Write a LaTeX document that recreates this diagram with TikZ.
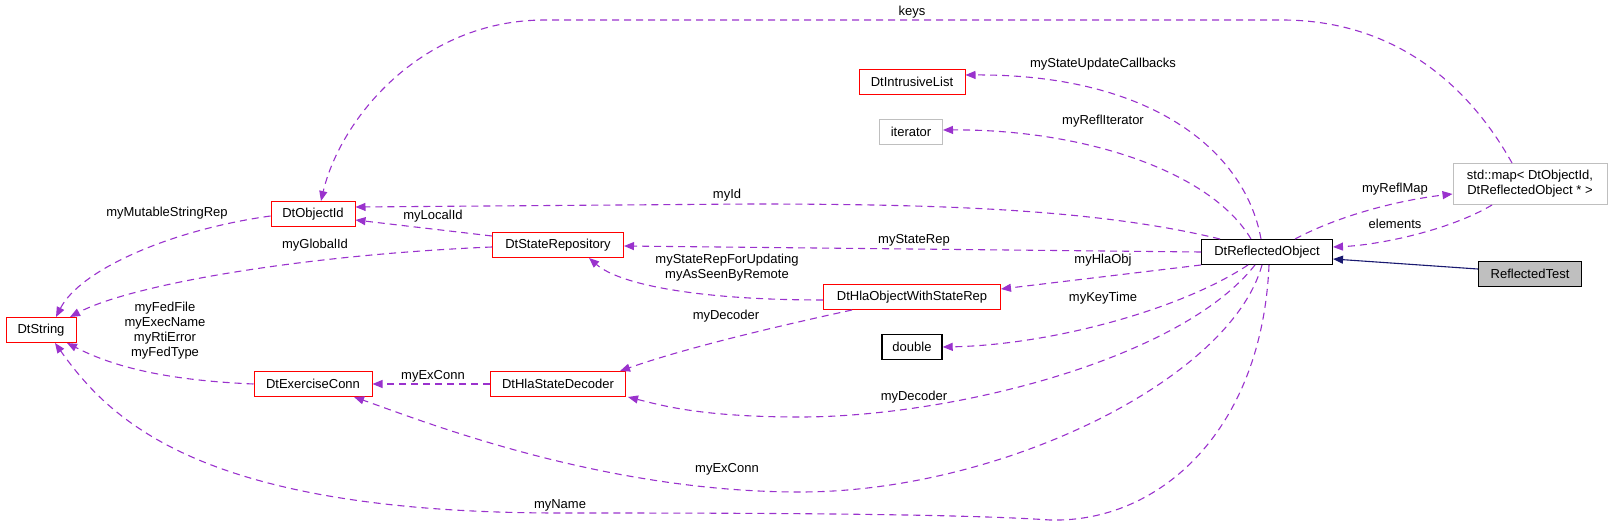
\documentclass[tikz,border=0pt]{standalone}
\usepackage{fontspec}
\setmainfont{Liberation Sans}
\usetikzlibrary{arrows.meta,positioning}
\definecolor{edgepurple}{HTML}{9A32CD}
\definecolor{boxred}{HTML}{FF0000}
\definecolor{boxgray}{HTML}{BFBFBF}
\definecolor{inhblue}{HTML}{191970}
\tikzset{>=stealth}
\tikzset{
  cls/.style={draw, line width=1pt, minimum height=25pt, inner sep=0pt, font=\fontsize{13}{15}\selectfont},
  redcls/.style={cls, draw=boxred},
  graycls/.style={cls, draw=boxgray},
  use/.style={edgepurple, line width=1.1pt, dash pattern=on 7pt off 5pt, -{Triangle[length=10pt,width=8pt]}},
  inh/.style={inhblue, line width=1.1pt, -{Triangle[length=10pt,width=8pt]}},
  lbl/.style={inner sep=0pt, font=\fontsize{13}{15}\selectfont, align=center}
}
\begin{document}
\begin{tikzpicture}[x=1pt,y=-1pt]
\useasboundingbox (0,0) rectangle (1613,526);
% classes
\node[redcls, minimum width=70pt] (ds) at (41,330) {DtString};
\node[redcls, minimum width=84pt] (oid) at (313,214) {DtObjectId};
\node[redcls, minimum width=131pt] (sr) at (558,245) {DtStateRepository};
\node[redcls, minimum width=118pt] (ec) at (313,384) {DtExerciseConn};
\node[redcls, minimum width=135pt] (hsd) at (558,384) {DtHlaStateDecoder};
\node[redcls, minimum width=106pt] (il) at (912,82) {DtIntrusiveList};
\node[graycls, minimum width=63pt] (it) at (911,132) {iterator};
\node[redcls, minimum width=177pt] (how) at (912,297) {DtHlaObjectWithStateRep};
\node[cls, line width=1.4pt, minimum width=60pt] (dbl) at (912,347) {double};
\node[cls, minimum width=131pt] (ro) at (1267,252) {DtReflectedObject};
\node[graycls, minimum width=154pt, minimum height=41pt, align=center] (map) at (1530,184) {std::map< DtObjectId,\\DtReflectedObject * >};
\node[cls, fill=boxgray, line width=1.4pt, minimum width=103pt] (rt) at (1530,274) {ReflectedTest};
% labels
\node[lbl] (lkeys) at (912,12) {keys};
\node[lbl] (lcb) at (1103,64) {myStateUpdateCallbacks};
\node[lbl] (lri) at (1103,121) {myReflIterator};
\node[lbl] (lid) at (727,195) {myId};
\node[lbl] (lmap) at (1395,189) {myReflMap};
\node[lbl] (lel) at (1395,224) {elements};
\node[lbl] (lsr) at (914,240) {myStateRep};
\node[lbl] (lho) at (1103,260) {myHlaObj};
\node[lbl] (lkt) at (1103,298) {myKeyTime};
\node[lbl] (ldec) at (914,397) {myDecoder};
\node[lbl] (lex) at (727,469) {myExConn};
\node[lbl] (lname) at (560,505) {myName};
\node[lbl] (lmsr) at (167,213) {myMutableStringRep};
\node[lbl] (lli) at (433,216) {myLocalId};
\node[lbl] (lgi) at (315,245) {myGlobalId};
\node[lbl] (lsrf) at (727,268) {myStateRepForUpdating\\myAsSeenByRemote};
\node[lbl] (lhd) at (726,316) {myDecoder};
\node[lbl] (lhe) at (433,376) {myExConn};
\node[lbl] (lff) at (165,331) {myFedFile\\myExecName\\myRtiError\\myFedType};
% connectors
\draw[use] ([xshift=-18pt]map.north) .. controls (1460,70) and (1380,20) .. (1282,20) -- (545,20) .. controls (420,20) and (340,120) .. ([xshift=8pt]oid.north);
\draw[use] ([xshift=-6pt]ro.north) .. controls (1245,150) and (1150,74) .. ([yshift=7pt]il.east);
\draw[use] ([xshift=-16pt]ro.north) .. controls (1210,170) and (1080,129) .. ([yshift=2pt]it.east);
\draw[use] ([xshift=-47pt]ro.north) .. controls (1100,210) and (950,204) .. (750,204) -- ([yshift=7pt]oid.east);
\draw[use] (ro.west) -- ([yshift=-1pt]sr.east);
\draw[use] (ro.south west) -- ([yshift=8pt]how.east);
\draw[use] ([xshift=-19pt]ro.south) .. controls (1180,310) and (1050,345) .. (dbl.east);
\draw[use] ([xshift=-12pt]ro.south) .. controls (1180,360) and (950,417) .. (800,417) .. controls (700,417) and (660,405) .. ([xshift=2pt]hsd.south east);
\draw[use] ([xshift=-5pt]ro.south) .. controls (1230,380) and (1000,492) .. (800,492) .. controls (600,492) and (420,420) .. ([xshift=41pt]ec.south);
\draw[use] ([xshift=2pt]ro.south) .. controls (1262,430) and (1160,523) .. (1050,520) .. controls (950,513) and (700,513) .. (560,513) .. controls (200,513) and (110,420) .. ([xshift=14pt]ds.south);
\draw[use] ([xshift=28pt]ro.north) .. controls (1340,215) and (1400,200) .. ([yshift=-10pt]map.west);
\draw[use] ([xshift=-38pt]map.south) .. controls (1450,230) and (1380,245) .. ([yshift=5pt]ro.east);
\draw[inh] ([yshift=5pt]rt.west) -- ([yshift=-7pt]ro.east);
\draw[use] ([yshift=-2pt]oid.west) .. controls (170,230) and (80,270) .. ([xshift=15pt]ds.north);
\draw[use] ([yshift=-2pt]sr.west) .. controls (300,255) and (130,285) .. ([xshift=29pt]ds.north);
\draw[use] ([yshift=9pt]sr.west) -- ([yshift=-6pt]oid.east);
\draw[use] ([yshift=-3pt]how.west) .. controls (700,300) and (620,285) .. ([xshift=31pt]sr.south);
\draw[use] ([xshift=-60pt]how.south) .. controls (760,330) and (680,350) .. ([xshift=62pt]hsd.north);
\draw[use] (hsd.west) -- (ec.east);
\draw[use] (ec.west) .. controls (160,380) and (110,365) .. ([xshift=26pt]ds.south);
\end{tikzpicture}
\end{document}
